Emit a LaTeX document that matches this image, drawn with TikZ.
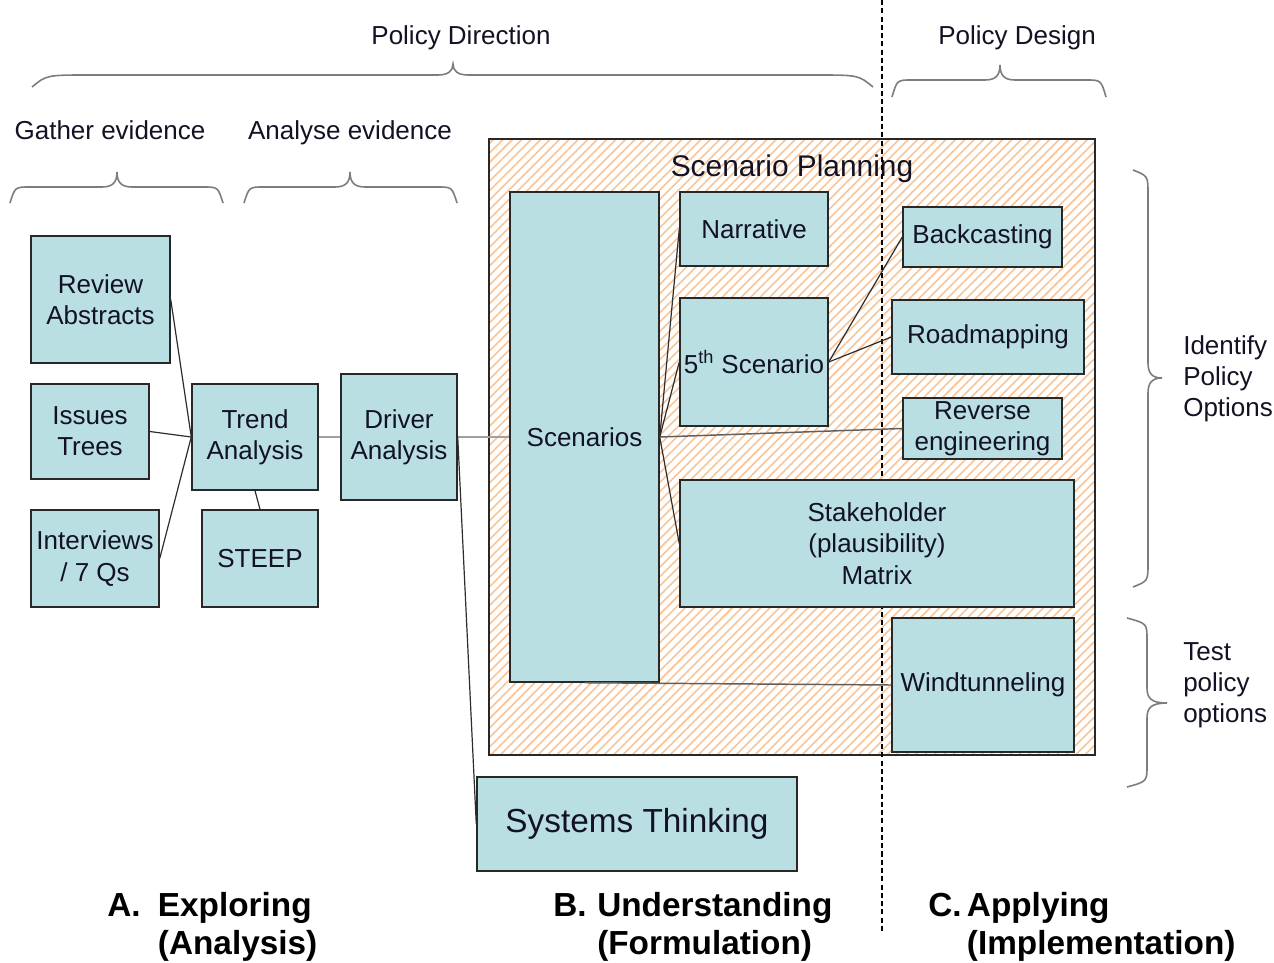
\documentclass[tikz,border=0pt]{standalone}
\usepackage{fontspec}
\setmainfont{Liberation Sans}
\usetikzlibrary{patterns.meta}
\definecolor{boxfill}{RGB}{185,223,226}
\definecolor{boxline}{RGB}{40,40,40}
\definecolor{hatch}{RGB}{250,196,150}
\definecolor{txt}{RGB}{18,18,36}
\definecolor{bracec}{RGB}{125,125,125}
\definecolor{lnk}{RGB}{45,45,45}
\definecolor{lnkgray}{RGB}{160,160,160}
\definecolor{lnkmid}{RGB}{95,95,95}

\newcommand\mkbox[7][box]{%
  \pgfmathsetmacro\bxw{(#5-#3)*0.75}%
  \pgfmathsetmacro\bxh{(#6-#4)*0.75}%
  \node[#1, minimum width=\bxw pt, minimum height=\bxh pt] (#2) at ({(#3+#5)/2},{(#4+#6)/2}) {#7};}

% horizontal brace: x1, x2, y of ends, y of bar, x of tip, y of tip, end radius
\newcommand\hbrace[7]{%
  \draw[bracestyle] (#1,#3) .. controls ({#1+0.25*#7},#4) .. ({#1+#7},#4) -- ({#5-15},#4)
    .. controls ({#5-5},#4) and (#5,{#4-4}) .. (#5,#6)
    .. controls (#5,{#4-4}) and ({#5+5},#4) .. ({#5+15},#4) -- ({#2-#7},#4)
    .. controls ({#2-0.25*#7},#4) .. (#2,#3);}
% vertical brace: y1, y2, x of ends, x of bar, y of tip, x of tip, end radius
\newcommand\vbrace[7]{%
  \draw[bracestyle] (#3,#1) .. controls (#4,{#1+0.25*#7}) .. (#4,{#1+#7}) -- (#4,{#5-15})
    .. controls (#4,{#5-5}) and ({#4+4},#5) .. (#6,#5)
    .. controls ({#4+4},#5) and (#4,{#5+5}) .. (#4,{#5+15}) -- (#4,{#2-#7})
    .. controls (#4,{#2-0.25*#7}) .. (#3,#2);}

\begin{document}
\begin{tikzpicture}[x=0.75pt, y=-0.75pt,
  box/.style={draw=boxline, line width=1.1pt, fill=boxfill, inner sep=0pt, align=center,
    text=txt, font=\fontsize{19.5}{23.5}\selectfont},
  bigbox/.style={box, font=\fontsize{25}{29}\selectfont},
  spbox/.style={draw=boxline, line width=1.1pt, inner sep=0pt,
    preaction={fill=white},
    preaction={pattern={Lines[angle=45,distance=5pt,line width=1.2pt]}, pattern color=hatch}},
  head/.style={text=txt, inner sep=0pt, font=\fontsize{19.5}{23.25}\selectfont},
  sphead/.style={text=txt, inner sep=0pt, font=\fontsize{22.4}{26}\selectfont},
  bottomlbl/.style={text=black, inner sep=0pt, font=\fontsize{25}{29}\selectfont\bfseries},
  bracestyle/.style={draw=bracec, line width=1.2pt},
  dashline/.style={draw=black, line width=1.1pt, dash pattern=on 3.8pt off 2.4pt},
  link/.style={draw=lnk, line width=0.9pt},
  glink/.style={draw=lnkgray, line width=1.5pt},
  mlink/.style={draw=lnkmid, line width=1.1pt}
]
\useasboundingbox (0,0) rectangle (1274,963);

% Scenario planning frame
\mkbox[spbox]{sp}{489}{139}{1095}{755}{}
\node[sphead, anchor=base] (sptitle) at (792,176) {Scenario Planning};

% dashed divider
\coordinate (dtop) at (882,0);
\coordinate (dbot) at (882,932);
\draw[dashline] (dtop) -- (dbot);

% headings and braces
\node[head, anchor=base] (pdir) at (461,45) {Policy Direction};
\node[head, anchor=base] (pdes) at (1017,45) {Policy Design};
\node[head, anchor=base] (gath) at (110,140) {Gather evidence};
\node[head, anchor=base] (anal) at (350,140) {Analyse evidence};
\hbrace{32}{873}{87}{75}{453}{64}{58}
\hbrace{892}{1106}{97}{80}{1000}{65}{20}
\hbrace{10}{223}{203}{187}{117}{172}{20}
\hbrace{244}{457}{203}{187}{350}{172}{20}
\vbrace{170}{587}{1133}{1148}{378}{1162}{24}
\vbrace{618}{787}{1127}{1147}{703}{1167}{22}
\node[head, anchor=north west, align=left] (idp) at (1183,335) {Identify\\Policy\\Options};
\node[head, anchor=north west, align=left] (tpo) at (1183,642) {Test\\policy\\options};

% boxes
\mkbox{ra}{31}{236}{170}{363}{Review\\Abstracts}
\mkbox{it}{31}{384}{149}{479}{Issues\\Trees}
\mkbox{iq}{31}{510}{159}{607}{Interviews\\/ 7 Qs}
\mkbox{ta}{192}{384}{318}{490}{Trend\\Analysis}
\mkbox{st}{202}{510}{318}{607}{STEEP}
\mkbox{da}{341}{374}{457}{500}{Driver\\Analysis}
\mkbox{sc}{510}{192}{659}{682}{Scenarios}
\mkbox{na}{680}{192}{828}{266}{Narrative}
\mkbox{fs}{680}{298}{828}{426}{5\textsuperscript{th} Scenario}
\mkbox{bc}{903}{207}{1062}{267}{Backcasting}
\mkbox{rm}{892}{300}{1084}{374}{Roadmapping}
\mkbox{re}{903}{398}{1062}{459}{Reverse\\engineering}
\mkbox{sm}{680}{480}{1074}{607}{Stakeholder\\(plausibility)\\Matrix}
\mkbox{wt}{892}{618}{1074}{752}{Windtunneling}
\mkbox[bigbox]{sys}{477}{777}{797}{871}{Systems Thinking}

% connectors
\draw[link] (ra.east) -- (ta.west);
\draw[link] (it.east) -- (ta.west);
\draw[link] (iq.east) -- (ta.west);
\draw[link] (ta.south) -- (st.north);
\draw[glink] (ta.east) -- (da.east -| da.west);
\draw[glink] (da.east) -- (sc.west);
\draw[link] (da.east) -- (sys.west);
\draw[link] (sc.east) -- (na.west);
\draw[link] (sc.east) -- (fs.west);
\draw[mlink] (sc.east) -- (re.west);
\draw[link] (sc.east) -- (sm.west);
\draw[link] (fs.east) -- (bc.west);
\draw[link] (fs.east) -- (rm.west);
\draw[mlink] (sc.south) -- (wt.west);

% bottom labels
\node[bottomlbl, anchor=base west] (labA) at (107,916)
  {\begin{tabular}[t]{@{}p{38pt}@{}l@{}}A.&Exploring\\&(Analysis)\end{tabular}};
\node[bottomlbl, anchor=base west] (labB) at (553,916)
  {\begin{tabular}[t]{@{}p{33pt}@{}l@{}}B.&Understanding\\&(Formulation)\end{tabular}};
\node[bottomlbl, anchor=base west] (labC) at (928,916)
  {\begin{tabular}[t]{@{}p{29pt}@{}l@{}}C.&Applying\\&(Implementation)\end{tabular}};
\end{tikzpicture}
\end{document}
